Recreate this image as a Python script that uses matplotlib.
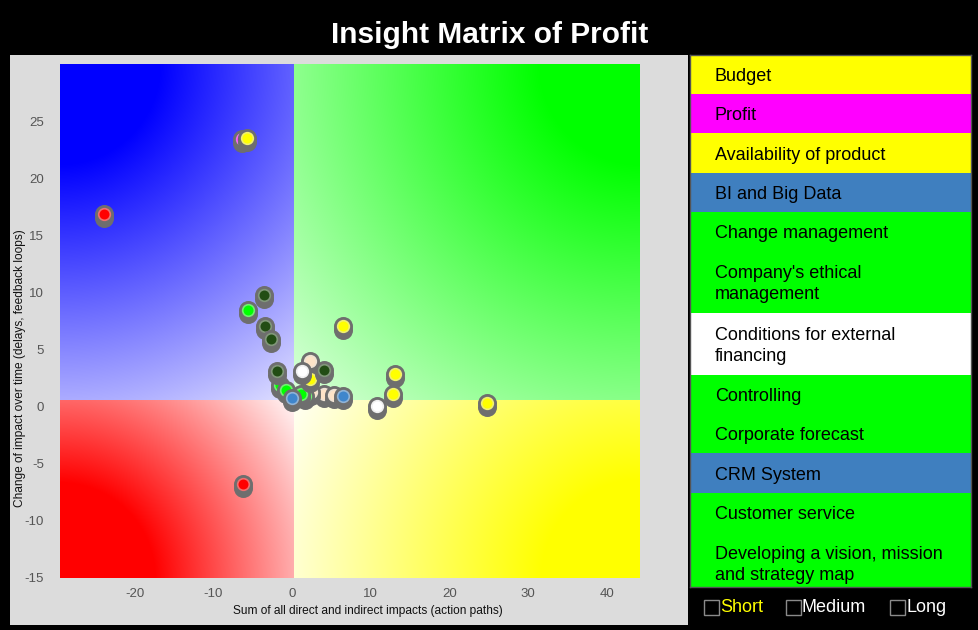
import numpy as np
import matplotlib
matplotlib.use("Agg")
import matplotlib.pyplot as plt
from matplotlib.patches import Rectangle
from matplotlib.transforms import offset_copy
from matplotlib.colors import to_rgb

plt.rcParams['font.family'] = ['Liberation Sans', 'DejaVu Sans']
plt.rcParams['axes.unicode_minus'] = False

# data
x_vals = [-6.4, -5.7, -23.9, -6.2, -3.6, -5.6, -3.5, -2.7, 6.4, 13.1, 12.8,
          10.8, 24.7, 4.0, 2.4, 5.3, -1.5, -0.8, 1.6, 1.1, 0.0, 6.4, 2.3,
          2.3, 4.1, -1.9, 1.2]
y_vals = [23.4, 23.5, 16.9, -6.8, 9.8, 8.5, 7.1, 5.9, 7.1, 2.9, 1.1,
          0.05, 0.3, 1.1, 1.3, 1.0, 1.9, 1.5, 0.9, 1.1, 0.8, 0.9, 4.0,
          2.4, 3.2, 3.1, 3.1]
pt_colors = ['#ff00ff', '#ffff00', '#ff0000', '#ff0000', '#224d14', '#00ff00',
             '#224d14', '#224d14', '#ffff00', '#ffff00', '#ffff00',
             '#ffffff', '#ffff00', '#fde3c8', '#fde3c8', '#fde3c8', '#00ff00',
             '#00ff00', '#00ff00', '#00ff00', '#3f86cc', '#3f86cc', '#fde3c8',
             '#ffff00', '#224d14', '#224d14', '#ffffff']

split_x, split_y = 0.2, 0.6

legend_labels = ['Budget', 'Profit', 'Availability of product', 'BI and Big Data',
                 'Change management', "Company's ethical\nmanagement",
                 'Conditions for external\nfinancing', 'Controlling',
                 'Corporate forecast', 'CRM System', 'Customer service',
                 'Developing a vision, mission\nand strategy map']
legend_colors = ['#ffff00', '#ff00ff', '#ffff00', '#3f7fbf', '#00ff00', '#00ff00',
                 '#ffffff', '#00ff00', '#00ff00', '#3f7fbf', '#00ff00', '#00ff00']

horizons = ['Short', 'Medium', 'Long']
horizon_colors = ['#ffff00', '#ffffff', '#ffffff']

W, H = 979, 630
def box(x0, y0, x1, y1):
    return [x0 / W, 1 - y1 / H, (x1 - x0) / W, (y1 - y0) / H]

fig = plt.figure(figsize=(W / 100, H / 100), dpi=100, facecolor='black')
fig.add_artist(Rectangle((10 / W, 1 - 625 / H), 678 / W, 570 / H,
                         transform=fig.transFigure, fc='#dcdcdc', ec='none', zorder=-5))

fig.text(490 / W, 1 - 43 / H, 'Insight Matrix of Profit', color='white',
         fontsize=21.5, fontweight='bold', ha='center', va='baseline')

ax = fig.add_axes(box(60, 64, 640, 578))
xmin, xmax, ymin, ymax = -29.5, 44.2, -15, 30
ax.set_xlim(xmin, xmax)
ax.set_ylim(ymin, ymax)

# quadrant gradients (radial from the outer corners)
nx, ny = 580, 514
gx, gy = np.meshgrid(np.arange(nx) + 0.5, np.arange(ny) + 0.5)
cx = (split_x - xmin) / (xmax - xmin) * nx
cy = (ymax - split_y) / (ymax - ymin) * ny
img = np.ones((ny, nx, 3))
quads = [((0, 0), '#0000ff', 100, 450, (gx < cx) & (gy < cy)),
         ((nx, 0), '#00ff00', 100, 540, (gx >= cx) & (gy < cy)),
         ((0, ny), '#ff0000', 95, 300, (gx < cx) & (gy >= cy)),
         ((nx, ny), '#ffff00', 98, 400, (gx >= cx) & (gy >= cy))]
for (ox, oy), col, r0, R, mask in quads:
    r = np.hypot(gx - ox, gy - oy)
    f = np.clip((R - r) / (R - r0), 0, 1)
    c = np.array(to_rgb(col))
    blend = (1 - f)[..., None] * 1.0 + f[..., None] * c
    img[mask] = blend[mask]
ax.imshow(img, extent=(xmin, xmax, ymin, ymax), aspect='auto', zorder=0,
          interpolation='bilinear')

# points: shadow, gray disc, coloured centre
shadow = offset_copy(ax.transData, fig=fig, x=0, y=-4, units='dots')
for i, (x, y, c) in enumerate(zip(x_vals, y_vals, pt_colors)):
    z = 3 + i * 0.01
    ax.scatter([x], [y], s=187, color='#6e6e6e', lw=0, transform=shadow, zorder=z)
    ax.scatter([x], [y], s=187, color='#6e6e6e', lw=0, zorder=z + 0.002)
    ring = 0.5 * np.array(to_rgb(c)) + 0.5 * np.array(to_rgb('#e0e0e0'))
    ax.scatter([x], [y], s=70, color=c, edgecolors=[ring], linewidths=1.2,
               zorder=z + 0.004)

ax.set_xticks(range(-20, 41, 10))
ax.set_yticks(range(-15, 26, 5))
ax.tick_params(axis='both', length=0, colors='#555555', labelsize=9.5)
ax.tick_params(axis='x', pad=7)
ax.tick_params(axis='y', pad=11.5)
for s in ax.spines.values():
    s.set_visible(False)

fig.text(368 / W, 1 - 611 / H, 'Sum of all direct and indirect impacts (action paths)',
         fontsize=8.6, color='#111111', ha='center', va='center')
fig.text(20 / W, 1 - 368 / H, 'Change of impact over time (delays, feedback loops)',
         fontsize=8.6, color='#111111', ha='center', va='center', rotation=90)

# legend list
lg = fig.add_axes(box(690, 55, 971, 587))
lg.set_xlim(0, 281)
lg.set_ylim(532, 0)
lg.set_xticks([])
lg.set_yticks([])
for s in lg.spines.values():
    s.set_color('#555555')
    s.set_linewidth(1)
top = 0
for lab, col in zip(legend_labels, legend_colors):
    h = 39.2 + 22.8 * lab.count('\n')
    lg.add_patch(Rectangle((0, top), 281, h, fc=col, ec='none'))
    lg.text(25, top + h / 2 + 2, lab, fontsize=13, color='black', ha='left',
            va='center', linespacing=1.33, clip_on=True)
    top += h

# horizon check boxes
hx = [704, 786, 890]
for x, lab, col in zip(hx, horizons, horizon_colors):
    fig.add_artist(Rectangle((x / W, 1 - 615 / H), 15 / W, 15 / H,
                             transform=fig.transFigure, fc='none', ec='#8a8a8a', lw=1))
    fig.text((x + 16) / W, 1 - 607 / H, lab, fontsize=13, color=col,
             ha='left', va='center')

fig.savefig('out.png', dpi=100, facecolor='black')
